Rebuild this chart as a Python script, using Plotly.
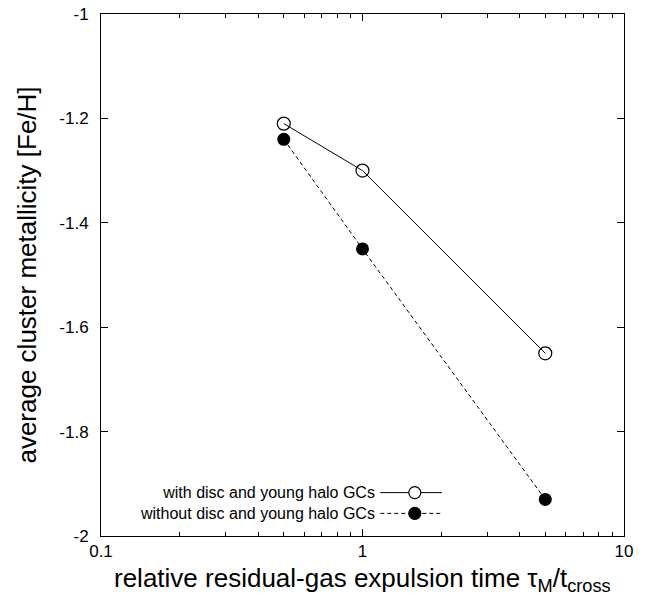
import plotly.graph_objects as go

# data
tau_ratio = [0.5, 1.0, 5.0]
feh_with = [-1.21, -1.30, -1.65]
feh_without = [-1.24, -1.45, -1.93]
series_names = ["with disc and young halo GCs", "without disc and young halo GCs"]
y_tickvals = [-2, -1.8, -1.6, -1.4, -1.2, -1]
y_ticktext = ["-2", "-1.8", "-1.6", "-1.4", "-1.2", "-1"]
x_tickvals = [0.1, 1, 10]
x_ticktext = ["0.1", "1", "10"]

FONT = "Liberation Sans, Arial, sans-serif"

fig = go.Figure()
fig.add_trace(go.Scatter(
    x=tau_ratio, y=feh_with, mode="lines+markers", name=series_names[0],
    line=dict(color="black", width=1),
    marker=dict(symbol="circle-open", size=13, color="black", line=dict(width=1.2)),
    showlegend=False))
fig.add_trace(go.Scatter(
    x=tau_ratio, y=feh_without, mode="lines+markers", name=series_names[1],
    line=dict(color="black", width=1, dash="4px,3px"),
    marker=dict(symbol="circle", size=13, color="black"),
    showlegend=False))

# manual gnuplot-style legend (text right-aligned, sample on the right)
fig.add_annotation(x=0.527, y=0.0632, xref="paper", yref="paper",
                   text="<br>".join(series_names), align="right",
                   showarrow=False, xanchor="right", yanchor="middle",
                   font=dict(family=FONT, size=16, color="black"))
leg_rows = [0.0831, 0.0433]
for i, yy in enumerate(leg_rows):
    fig.add_shape(type="line", xref="paper", yref="paper", x0=0.534, x1=0.652,
                  y0=yy, y1=yy,
                  line=dict(color="black", width=1, dash="solid" if i == 0 else "4px,3px"))
    fig.add_shape(type="circle", xref="paper", yref="paper",
                  xsizemode="pixel", ysizemode="pixel",
                  xanchor=0.600, yanchor=yy, x0=-6, x1=6, y0=-6, y1=6,
                  line=dict(color="black", width=1.2),
                  fillcolor="white" if i == 0 else "black")

# x-axis title placed as annotation for exact vertical position
fig.add_annotation(x=0.5, y=-0.05, xref="paper", yref="paper",
                   text="relative residual-gas expulsion time τ<sub>M</sub>/t<sub>cross</sub>",
                   showarrow=False, xanchor="center", yanchor="top", borderpad=0,
                   font=dict(family=FONT, size=26, color="black"))

fig.update_layout(
    width=645, height=597,
    margin=dict(l=101, r=21, t=14, b=61, autoexpand=False),
    paper_bgcolor="white", plot_bgcolor="white",
    font=dict(family=FONT, size=17, color="black"),
    showlegend=False,
)
fig.update_xaxes(
    type="log", range=[-1, 1],
    tickvals=x_tickvals, ticktext=x_ticktext,
    ticks="inside", ticklen=7, tickwidth=1, tickcolor="black",
    minor=dict(ticks="inside", ticklen=4, tickwidth=1, tickcolor="black", dtick="D1", showgrid=False),
    showline=True, linecolor="black", linewidth=1, mirror="allticks",
    showgrid=False, zeroline=False,
    tickfont=dict(size=17),
)
fig.update_yaxes(
    range=[-2, -1],
    tickvals=y_tickvals, ticktext=y_ticktext,
    ticks="inside", ticklen=7, tickwidth=1, tickcolor="black",
    ticklabelstandoff=8,
    showline=True, linecolor="black", linewidth=1, mirror="allticks",
    showgrid=False, zeroline=False,
    tickfont=dict(size=17),
    title=dict(text="average cluster metallicity [Fe/H]", font=dict(size=26), standoff=15),
)

fig.write_html("out.html", config={"displayModeBar": False},
               post_script="document.body.style.margin='0';document.body.style.padding='0';")
